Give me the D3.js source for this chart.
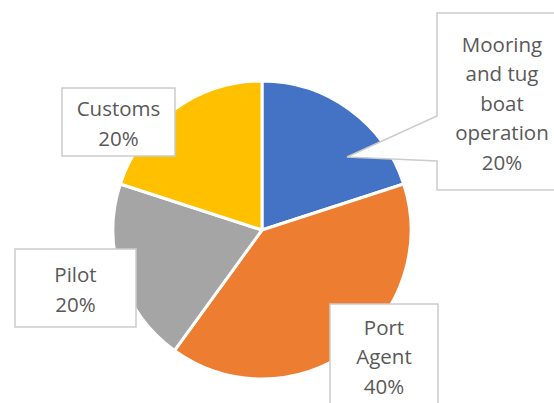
<!DOCTYPE html>
<html>
<head>
<meta charset="utf-8">
<script src="https://cdn.jsdelivr.net/npm/d3@7"></script>
<style>
  html, body { margin: 0; padding: 0; background: #fff; }
  svg { display: block; }
</style>
</head>
<body>
<div id="chart"></div>
<script>
// chart data
var categories = ["Mooring and tug boat operation", "Port Agent", "Pilot", "Customs"];
var values = [20, 40, 20, 20];
var colors = ["#4472C4", "#ED7D31", "#A5A5A5", "#FFC000"];
// label text split into lines as in the picture
var labelLines = [
    ["Mooring", "and tug", "boat", "operation", "20%"],
    ["Port", "Agent", "40%"],
    ["Pilot", "20%"],
    ["Customs", "20%"]
];

// label box layout (x0, y0, x1, y1)
var boxes = [
    [437, 13, 568, 190],
    [330, 304, 438, 406],
    [15, 249, 136, 327],
    [62, 88, 175, 156]
];
var pointer = { top: 116, tipX: 347, tipY: 157, bottom: 161 };

var width = 554, height = 403;
var cx = 262, cy = 230, radius = 149;
var lineH = 29.5;

var svg = d3.select("#chart").append("svg")
    .attr("width", width)
    .attr("height", height);

var pie = d3.pie().sort(null).value(function (d) { return d; });
var arc = d3.arc().innerRadius(0).outerRadius(radius);

var g = svg.append("g").attr("transform", "translate(" + cx + "," + cy + ")");

g.selectAll("path.slice")
    .data(pie(values))
    .enter().append("path")
    .attr("class", "slice")
    .attr("d", arc)
    .attr("fill", function (d, i) { return colors[i]; })
    .attr("stroke", "#fff")
    .attr("stroke-width", 3)
    .attr("stroke-linejoin", "round");

// label boxes
var labels = svg.selectAll("g.label")
    .data(categories)
    .enter().append("g")
    .attr("class", "label");

labels.append("path")
    .attr("d", function (d, i) {
        var b = boxes[i];
        if (i == 0) {
            // callout with pointer into the slice
            return "M" + b[0] + "," + b[1] + "H" + b[2] + "V" + b[3] + "H" + b[0] +
                "V" + pointer.bottom + "L" + pointer.tipX + "," + pointer.tipY +
                "L" + b[0] + "," + pointer.top + "Z";
        }
        return "M" + b[0] + "," + b[1] + "H" + b[2] + "V" + b[3] + "H" + b[0] + "Z";
    })
    .attr("fill", "#fff")
    .attr("stroke", "#cccccc")
    .attr("stroke-width", 1.5);

labels.each(function (d, i) {
    var b = boxes[i];
    var lines = labelLines[i];
    var mx = (b[0] + Math.min(b[2], width + 13)) / 2;
    var my = (b[1] + b[3]) / 2 + 9;
    var t = d3.select(this).append("text")
        .attr("text-anchor", "middle")
        .attr("font-family", "'Open Sans', sans-serif")
        .attr("font-size", 20.5)
        .attr("fill", "#595959");
    lines.forEach(function (s, k) {
        t.append("tspan")
            .attr("x", mx)
            .attr("y", my + (k - (lines.length - 1) / 2) * lineH)
            .text(s);
    });
});
</script>
</body>
</html>
